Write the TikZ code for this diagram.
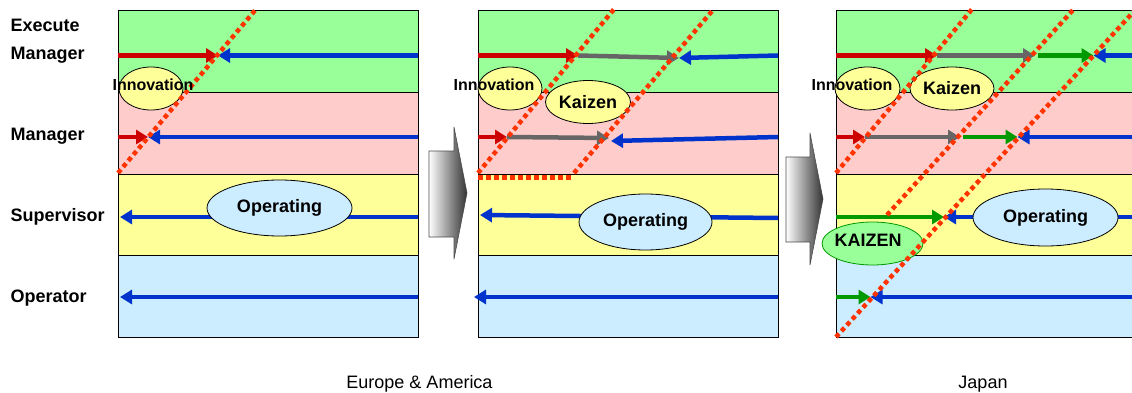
\documentclass[tikz,border=0pt]{standalone}
\usepackage{fontspec}
\setmainfont{Liberation Sans}
\usetikzlibrary{arrows.meta,shapes.geometric}
\definecolor{bandgreen}{HTML}{99FF99}
\definecolor{bandpink}{HTML}{FFCCCC}
\definecolor{bandyellow}{HTML}{FFFF99}
\definecolor{bandblue}{HTML}{CCECFF}
\definecolor{arrred}{HTML}{CC0000}
\definecolor{arrblue}{HTML}{0033CC}
\definecolor{arrgray}{HTML}{666666}
\definecolor{arrgreen}{HTML}{009900}
\definecolor{dotred}{HTML}{FF3300}
\begin{document}
\begin{tikzpicture}[x=1pt, y=-1pt,
    band/.style={draw=black, line width=0.8pt},
    arr/.style={line width=4.5pt, -{Triangle[length=12pt, width=14pt]}},
    redarr/.style={arr, draw=arrred},
    bluearr/.style={arr, draw=arrblue},
    grayarr/.style={arr, draw=arrgray},
    greenarr/.style={arr, draw=arrgreen},
    dots/.style={draw=dotred, line width=4.5pt, dash pattern=on 4.5pt off 3.5pt},
    lbl/.style={anchor=base west, inner sep=0pt, font=\fontsize{18pt}{20pt}\selectfont\bfseries},
    bubble/.style={ellipse, draw=black, line width=0.8pt, inner sep=0pt, font=\fontsize{18pt}{20pt}\selectfont\bfseries},
    bubtext/.style={inner sep=0pt, font=\fontsize{16pt}{18pt}\selectfont\bfseries},
    bigarr/.style={draw=black!70, line width=0.6pt, left color=white, right color=black!80},
    caption/.style={anchor=base, inner sep=0pt, font=\fontsize{18pt}{20pt}\selectfont}]
    \useasboundingbox (0,0) rectangle (1132,393);
    \clip (0,0) rectangle (1132,393);

    \draw[band, fill=bandgreen] (118,10) rectangle (418,92.5);
    \draw[band, fill=bandpink] (118,92.5) rectangle (418,174);
    \draw[band, fill=bandyellow] (118,174) rectangle (418,255.5);
    \draw[band, fill=bandblue] (118,255.5) rectangle (418,337.5);
    \draw[band, fill=bandgreen] (478,10) rectangle (778,92.5);
    \draw[band, fill=bandpink] (478,92.5) rectangle (778,174);
    \draw[band, fill=bandyellow] (478,174) rectangle (778,255.5);
    \draw[band, fill=bandblue] (478,255.5) rectangle (778,337.5);
    \draw[band, fill=bandgreen] (836,10) rectangle (1140,92.5);
    \draw[band, fill=bandpink] (836,92.5) rectangle (1140,174);
    \draw[band, fill=bandyellow] (836,174) rectangle (1140,255.5);
    \draw[band, fill=bandblue] (836,255.5) rectangle (1140,337.5);

    \draw[bigarr] (429,151) -- (454,151) -- (454,127) -- (467,193) -- (454,259) -- (454,237) -- (429,237) -- cycle;
    \draw[bigarr] (786,157) -- (810,157) -- (810,133) -- (823,199) -- (810,265) -- (810,242) -- (786,242) -- cycle;

    \node (lexec) [lbl] at (10.5,32) {Execute};
    \node (lmgr1) [lbl] at (10.5,60) {Manager};
    \node (lmgr2) [lbl] at (10.5,140) {Manager};
    \node (lsup) [lbl] at (10.5,221) {Supervisor};
    \node (lop) [lbl] at (10.5,302) {Operator};

    \coordinate (ae1l) at (118,55.5);
    \coordinate (ae1m) at (218,55.5);
    \coordinate (ae1r) at (418,55.5);
    \coordinate (am1l) at (118,137);
    \coordinate (am1m) at (148,137);
    \coordinate (am1r) at (418,137);
    \coordinate (as1l) at (120,217);
    \coordinate (as1r) at (418,217);
    \coordinate (ao1l) at (120,297);
    \coordinate (ao1r) at (418,297);
    \draw[redarr] (ae1l) -- (ae1m);
    \draw[bluearr] (ae1r) -- (ae1m);
    \draw[redarr] (am1l) -- (am1m);
    \draw[bluearr] (am1r) -- (am1m);
    \draw[bluearr] (as1r) -- (as1l);
    \draw[bluearr] (ao1r) -- (ao1l);

    \coordinate (ae2l) at (478,55.5);
    \coordinate (ae2a) at (578,55.5);
    \coordinate (ae2b) at (679,58);
    \coordinate (ae2r) at (778,55.5);
    \coordinate (am2l) at (478,137);
    \coordinate (am2a) at (507,137);
    \coordinate (am2b) at (609,138);
    \coordinate (am2c) at (611,141);
    \coordinate (am2r) at (778,137);
    \coordinate (as2l) at (480,215);
    \coordinate (as2r) at (778,218);
    \coordinate (ao2l) at (474,297);
    \coordinate (ao2r) at (778,297);
    \draw[redarr] (ae2l) -- (ae2a);
    \draw[grayarr] (ae2a) -- (ae2b);
    \draw[bluearr] (ae2r) -- (ae2b);
    \draw[redarr] (am2l) -- (am2a);
    \draw[grayarr] (am2a) -- (am2b);
    \draw[bluearr] (am2r) -- (am2c);
    \draw[bluearr] (as2r) -- (as2l);
    \draw[bluearr] (ao2r) -- (ao2l);

    \coordinate (ae3l) at (836,55.5);
    \coordinate (ae3a) at (937,55.5);
    \coordinate (ae3b) at (1035,55.5);
    \coordinate (ae3c) at (1038,55.5);
    \coordinate (ae3d) at (1093.5,55.5);
    \coordinate (ae3r) at (1140,55.5);
    \coordinate (am3l) at (836,137);
    \coordinate (am3a) at (865,137);
    \coordinate (am3b) at (960,137);
    \coordinate (am3c) at (963,137);
    \coordinate (am3d) at (1017.5,137);
    \coordinate (am3r) at (1140,137);
    \coordinate (as3l) at (836,217);
    \coordinate (as3m) at (944,217);
    \coordinate (as3r) at (1140,217);
    \coordinate (ao3l) at (836,297);
    \coordinate (ao3m) at (870.5,297);
    \coordinate (ao3r) at (1140,297);
    \draw[redarr] (ae3l) -- (ae3a);
    \draw[grayarr] (ae3a) -- (ae3b);
    \draw[greenarr] (ae3c) -- (ae3d);
    \draw[bluearr] (ae3r) -- (ae3d);
    \draw[redarr] (am3l) -- (am3a);
    \draw[grayarr] (am3a) -- (am3b);
    \draw[greenarr] (am3c) -- (am3d);
    \draw[bluearr] (am3r) -- (am3d);
    \draw[greenarr] (as3l) -- (as3m);
    \draw[bluearr] (as3r) -- (as3m);
    \draw[greenarr] (ao3l) -- (ao3m);
    \draw[bluearr] (ao3r) -- (ao3m);

    \node (inno1) [bubble, fill=bandyellow, minimum width=64pt, minimum height=43pt] at (151,88.5) {};
    \node (inno2) [bubble, fill=bandyellow, minimum width=64pt, minimum height=43pt] at (510,88.5) {};
    \node (inno3) [bubble, fill=bandyellow, minimum width=65pt, minimum height=43pt] at (867.5,88.5) {};
    \node (kaiz2) [bubble, fill=bandyellow, minimum width=85pt, minimum height=43pt] at (588,102) {Kaizen};
    \node (kaiz3) [bubble, fill=bandyellow, minimum width=84pt, minimum height=43pt] at (952,88.5) {Kaizen};
    \node (oper1) [bubble, fill=bandblue, minimum width=145pt, minimum height=56pt] at (279.5,208) {Operating};
    \node (oper2) [bubble, fill=bandblue, minimum width=133pt, minimum height=56pt] at (645.5,222) {Operating};
    \node (oper3) [bubble, fill=bandblue, minimum width=145pt, minimum height=57pt] at (1045.5,217.5) {Operating};
    \node (kbig) [bubble, draw=arrgreen, fill=bandgreen, minimum width=101pt, minimum height=43pt] at (872.5,243.5) {};

    \coordinate (d1a) at (118,173);
    \coordinate (d1b) at (257,8);
    \coordinate (d2a) at (478,173);
    \coordinate (d2b) at (615,8);
    \coordinate (d2c) at (574,173);
    \coordinate (d2d) at (713,10);
    \coordinate (d2e) at (478,177.5);
    \coordinate (d2f) at (573,177.5);
    \coordinate (d3a) at (836,173);
    \coordinate (d3b) at (973,8);
    \coordinate (d3c) at (887,215);
    \coordinate (d3d) at (1073,10);
    \coordinate (d3e) at (836,337);
    \coordinate (d3f) at (1137,8);
    \draw[dots] (d1a) -- (d1b);
    \draw[dots] (d2a) -- (d2b);
    \draw[dots] (d2c) -- (d2d);
    \draw[dots, line width=5pt] (d2e) -- (d2f);
    \draw[dots] (d3a) -- (d3b);
    \draw[dots] (d3c) -- (d3d);
    \draw[dots] (d3e) -- (d3f);

    \node (innot1) [bubtext] at (153,85) {Innovation};
    \node (innot2) [bubtext] at (494,85) {Innovation};
    \node (innot3) [bubtext] at (852,85) {Innovation};
    \node (kbigt) [lbl, anchor=base] at (868,246) {KAIZEN};

    \node (eu) [caption] at (419.5,388) {Europe \& America};
    \node (jp) [caption] at (983,388) {Japan};
\end{tikzpicture}
\end{document}
